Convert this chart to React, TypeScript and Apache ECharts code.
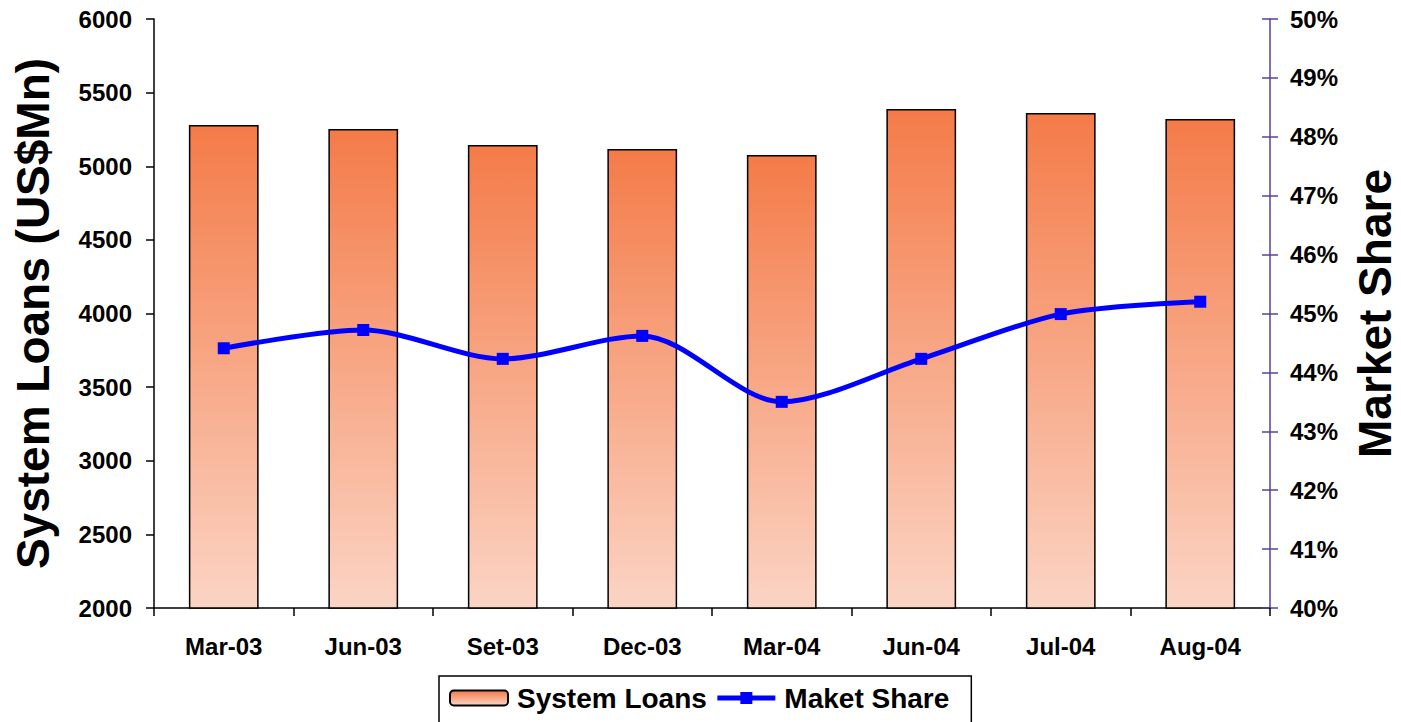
import React, { useEffect, useRef } from "react";
import * as echarts from "echarts";

const categories = ["Mar-03", "Jun-03", "Set-03", "Dec-03", "Mar-04", "Jun-04", "Jul-04", "Aug-04"];
const systemLoans = [5280, 5253, 5144, 5117, 5076, 5389, 5362, 5321];
const marketShare = [44.41, 44.72, 44.23, 44.62, 43.5, 44.23, 44.99, 45.2];

const FONT = "'Liberation Sans', Arial, sans-serif";

export default function App() {
  const ref = useRef<HTMLDivElement>(null);
  useEffect(() => {
    const chart = echarts.init(ref.current!, null, { renderer: "svg" });
    const labelStyle = { fontFamily: FONT, fontWeight: "bold" as const, fontSize: 24, color: "#000" };
    chart.setOption({
      animation: false,
      backgroundColor: "#fff",
      grid: { left: 154, right: 131, top: 19, bottom: 114, containLabel: false, outerBoundsMode: "none" },
      legend: {
        left: 439,
        top: 676,
        itemGap: 8,
        itemWidth: 58,
        itemHeight: 15,
        borderColor: "#000",
        borderWidth: 1.5,
        padding: [8, 22, 14, 10],
        textStyle: { fontFamily: FONT, fontWeight: "bold", fontSize: 28, color: "#000", padding: [0, 0, 0, 4] },
        data: [
          { name: "System Loans" },
          { name: "Maket Share", lineStyle: { width: 5 } },
        ],
      },
      xAxis: {
        type: "category",
        data: categories,
        boundaryGap: true,
        axisLine: { lineStyle: { color: "#000", width: 1.5 } },
        axisTick: { show: true, alignWithLabel: false, length: 8, lineStyle: { color: "#000", width: 1.5 } },
        axisLabel: { ...labelStyle, margin: 26 },
        splitLine: { show: false },
      },
      yAxis: [
        {
          type: "value",
          position: "left",
          min: 2000,
          max: 6000,
          interval: 500,
          name: "System Loans (US$Mn)",
          nameLocation: "middle",
          nameRotate: 90,
          nameGap: 98,
          nameTextStyle: { fontFamily: FONT, fontWeight: "bold", fontSize: 46, color: "#000" },
          axisLine: { show: true, lineStyle: { color: "#000", width: 1.5 } },
          axisTick: { show: true, length: 8, lineStyle: { color: "#000", width: 1.5 } },
          axisLabel: { ...labelStyle, margin: 22, formatter: (v: number) => String(v) },
          splitLine: { show: false },
        },
        {
          type: "value",
          position: "right",
          min: 40,
          max: 50,
          interval: 1,
          name: "Market Share",
          nameLocation: "middle",
          nameRotate: 90,
          nameGap: 82,
          nameTextStyle: { fontFamily: FONT, fontWeight: "bold", fontSize: 46, color: "#000" },
          axisLine: { show: true, lineStyle: { color: "#5B3F9A", width: 1.5 } },
          axisTick: { show: true, length: 8, lineStyle: { color: "#5B3F9A", width: 1.5 } },
          axisLabel: { ...labelStyle, margin: 20, formatter: "{value}%" },
          splitLine: { show: false },
        },
        {
          type: "value",
          position: "right",
          min: 40,
          max: 50,
          interval: 1,
          axisLine: { show: false },
          axisTick: { show: true, inside: true, length: 8, lineStyle: { color: "#5B3F9A", width: 1.5 } },
          axisLabel: { show: false },
          splitLine: { show: false },
        },
      ],
      series: [
        {
          name: "System Loans",
          type: "bar",
          yAxisIndex: 0,
          data: systemLoans,
          barWidth: "50%",
          itemStyle: {
            color: new echarts.graphic.LinearGradient(0, 0, 0, 1, [
              { offset: 0, color: "#F47B48" },
              { offset: 1, color: "#FBD4C4" },
            ]),
            borderColor: "#000",
            borderWidth: 1.5,
          },
        },
        {
          name: "Maket Share",
          type: "line",
          yAxisIndex: 1,
          data: marketShare,
          smooth: 0.3,
          symbol: "rect",
          symbolSize: 12,
          lineStyle: { color: "#0000FF", width: 5 },
          itemStyle: { color: "#0000FF" },
        },
      ],
    });
    return () => chart.dispose();
  }, []);
  return (
    <div
      ref={ref}
      style={{ position: "fixed", left: 0, top: 0, width: 1401, height: 722, background: "#fff" }}
    />
  );
}
